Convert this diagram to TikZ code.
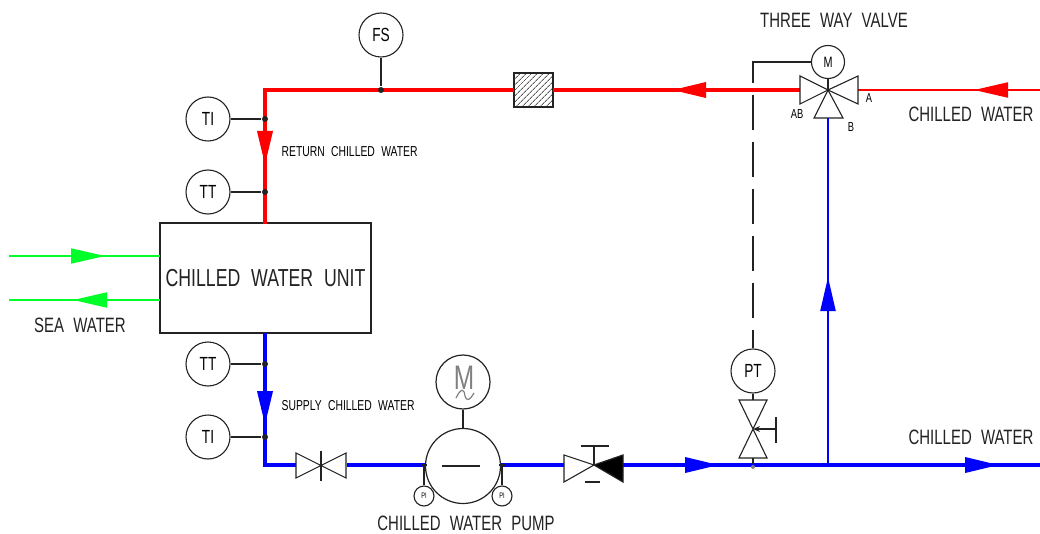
\documentclass[tikz,border=0pt]{standalone}
\usepackage{fontspec}
\newfontfamily\cadfont[FakeStretch=0.72,WordSpace=2.2]{Liberation Sans}
\usetikzlibrary{positioning, arrows.meta, calc, patterns.meta}

\definecolor{pipered}{RGB}{255,0,0}
\definecolor{pipeblue}{RGB}{0,0,255}
\definecolor{pipegreen}{RGB}{0,255,40}
\definecolor{inkgray}{RGB}{35,35,35}

\begin{document}
\begin{tikzpicture}[x=1pt, y=-1pt, >=Stealth, line width=1.2pt]

  % --- STYLES ---
  \tikzstyle{instr}=[circle, draw=inkgray, fill=white, line width=1.1pt, minimum size=44pt, inner sep=0pt, font=\cadfont\fontsize{19}{19}\selectfont]
  \tikzstyle{gauge}=[circle, draw=inkgray, fill=white, line width=1.1pt, minimum size=20pt, inner sep=0pt, font=\cadfont\fontsize{8}{8}\selectfont]
  \tikzstyle{junction}=[circle, fill=inkgray, inner sep=0pt, minimum size=6pt]
  \tikzstyle{label}=[inner sep=0pt, text=inkgray, font=\cadfont\fontsize{20.8}{20.8}\selectfont]
  \tikzstyle{smalllabel}=[inner sep=0pt, text=black, font=\cadfont\fontsize{14.4}{14.4}\selectfont]
  \tikzstyle{portlabel}=[inner sep=0pt, text=black, font=\cadfont\fontsize{13}{13}\selectfont]
  \tikzstyle{valve}=[draw=inkgray, line width=1.1pt, line join=miter]
  \tikzstyle{redthick}=[draw=pipered, line width=3.6pt]
  \tikzstyle{redthin}=[draw=pipered, line width=2pt]
  \tikzstyle{bluethick}=[draw=pipeblue, line width=3.6pt]
  \tikzstyle{bluethin}=[draw=pipeblue, line width=2.2pt]
  \tikzstyle{greenline}=[draw=pipegreen, line width=1.8pt]
  \tikzstyle{flow}=[-{Triangle[length=34pt, width=15pt]}]

  \useasboundingbox (0,0) rectangle (1040,534);

  % --- CHILLED WATER UNIT ---
  \node[draw=inkgray, line width=1.4pt, minimum width=211pt, minimum height=110pt, inner sep=0pt, font=\cadfont\fontsize{24.6}{24.6}\selectfont, text=inkgray] (unit) at (265.5,278) {CHILLED WATER UNIT};

  % --- SEA WATER ---
  \coordinate (seaInA) at (9,256);
  \coordinate (seaInB) at (160,256);
  \coordinate (seaOutA) at (160,300);
  \coordinate (seaOutB) at (9,300);
  \draw[greenline] (seaInA) -- (seaInB);
  \draw[greenline] (seaOutA) -- (seaOutB);
  \draw[greenline, flow] (72,256) -- (105,256);
  \draw[greenline, flow] (106,300) -- (73,300);
  \node[label] (sea) at (80,325) {SEA WATER};

  % --- RETURN LINE ---
  \coordinate (retBot) at (265,224);
  \coordinate (retCorner) at (265,90);
  \node[draw=inkgray, line width=1.2pt, minimum width=39pt, minimum height=34pt, inner sep=0pt, pattern={Lines[angle=45, distance=4pt, line width=.9pt]}, pattern color=black!65] (filter) at (533.5,90) {};
  \coordinate (vCenter) at (828,90);
  \coordinate (vAB) at (800,90);
  \coordinate (vA) at (858,90);
  \coordinate (chwIn) at (1040,90);
  \draw[redthick] (retBot) -- (retCorner) -- (filter);
  \draw[redthick] (filter) -- (vAB);
  \draw[redthin] (vA) -- (chwIn);
  \draw[redthick, flow] (265,132) -- (265,165);
  \draw[redthick, flow] (708,90) -- (672,90);
  \draw[redthin, flow] (1005,90) -- (974,90);
  \node[smalllabel, anchor=west] (retText) at (281,152) {RETURN CHILLED WATER};

  % --- RETURN LINE INSTRUMENTS ---
  \node[instr] (FS) at (381,35) {FS};
  \node[instr] (TI1) at (208,119) {TI};
  \node[instr] (TT1) at (208,192) {TT};
  \node[junction] (jFS) at (381,90) {};
  \node[junction] (jTI1) at (265,119) {};
  \node[junction] (jTT1) at (265,192) {};
  \draw[draw=inkgray] (FS) -- (jFS);
  \draw[draw=inkgray] (TI1) -- (jTI1);
  \draw[draw=inkgray] (TT1) -- (jTT1);

  % --- THREE WAY VALVE ---
  \coordinate (vB) at (828,118);
  \draw[valve] (vAB) ++(0,-14) -- (vCenter) -- (858,76) -- (858,104) -- (vCenter) -- (800,104) -- cycle;
  \draw[valve] (vCenter) -- (843,118) -- (814,118) -- cycle;
  \node[instr, minimum size=33pt, font=\cadfont\fontsize{15}{15}\selectfont] (Mv) at (828,62) {M};
  \draw[draw=inkgray] (Mv) -- (vCenter);
  \node[junction, minimum size=3pt] (jV) at (vCenter) {};
  \node[portlabel] (lA) at (869,98) {A};
  \node[portlabel] (lAB) at (797,114) {AB};
  \node[portlabel] (lB) at (851,127) {B};
  \node[label] (tw) at (834,20) {THREE WAY VALVE};
  \node[label] (chwTop) at (971,114) {CHILLED WATER};

  % --- SUPPLY LINE ---
  \coordinate (supTop) at (265,333);
  \coordinate (supCorner) at (265,465);
  \coordinate (gvL) at (296,465);
  \coordinate (gvC) at (321,465);
  \coordinate (gvR) at (347,465);
  \coordinate (pumpIn) at (426,465);
  \coordinate (pumpOut) at (500,465);
  \coordinate (cvL) at (564,465);
  \coordinate (cvC) at (594,465);
  \coordinate (cvR) at (623,465);
  \coordinate (chwOut) at (1040,465);
  \node[inner sep=0pt, minimum size=0pt] (tee) at (828,465) {};
  \draw[bluethick] (supTop) -- (supCorner) -- (gvL);
  \draw[bluethick] (gvR) -- (pumpIn);
  \draw[bluethick] (pumpOut) -- (cvL);
  \draw[bluethick] (cvR) -- (chwOut);
  \draw[bluethin] (tee.center) -- (vB);
  \draw[bluethick, flow] (265,391) -- (265,425);
  \draw[bluethick, flow] (687,465) -- (719,465);
  \draw[bluethick, flow] (967,465) -- (999,465);
  \draw[bluethin, flow] (828,311) -- (828,277);
  \node[smalllabel, anchor=west] (supText) at (281,406) {SUPPLY CHILLED WATER};
  \node[label] (chwBot) at (971,437) {CHILLED WATER};

  % --- SUPPLY LINE INSTRUMENTS ---
  \node[instr] (TT2) at (208,364) {TT};
  \node[instr] (TI2) at (208,437) {TI};
  \node[junction] (jTT2) at (265,364) {};
  \node[junction] (jTI2) at (265,437) {};
  \draw[draw=inkgray] (TT2) -- (jTT2);
  \draw[draw=inkgray] (TI2) -- (jTI2);

  % --- GATE VALVE ---
  \draw[valve] (296,453) -- (346,478) -- (346,453) -- (296,478) -- cycle;
  \draw[draw=inkgray] (gvC) ++(0,-14) -- ++(0,30);

  % --- PUMP ---
  \node[circle, draw=inkgray, line width=1.2pt, minimum size=75pt, inner sep=0pt] (pump) at (463,466) {};
  \node[circle, draw=inkgray, line width=1.2pt, minimum size=54pt, inner sep=0pt] (motor) at (463,382) {};
  \node[inner sep=0pt, font=\cadfont\fontsize{34}{34}\selectfont, text=gray] (motorM) at (464,378) {M};
  \draw[draw=inkgray] (motor) -- (pump);
  \draw[draw=inkgray] (442,466) -- (480,466);
  \draw[draw=gray] (456,398) .. controls (461,388) and (464,388) .. (465,396) .. controls (467,402) and (470,400) .. (474,393);
  \node[gauge] (P1) at (424,496) {PI};
  \node[gauge] (P2) at (502,496) {PI};
  \coordinate (P1top) at (424,465);
  \coordinate (P2top) at (502,465);
  \draw[draw=inkgray] (P1) -- (P1top);
  \draw[draw=inkgray] (P2) -- (P2top);
  \draw[draw=inkgray] (421,465) -- (427,465);
  \draw[draw=inkgray] (499,465) -- (505,465);
  \node[label] (pumpText) at (466,523.5) {CHILLED WATER PUMP};

  % --- CHECK VALVE ---
  \draw[valve] (564,455) -- (cvC) -- (564,482) -- cycle;
  \draw[inkgray, fill=black] (623,455) -- (cvC) -- (623,482) -- cycle;
  \draw[draw=inkgray] (cvC) -- (594,446);
  \draw[draw=inkgray] (581,446) -- (609,446);
  \draw[draw=inkgray] (585,482) -- (600,482);

  % --- PT TAPPING ---
  \node[instr] (PT) at (753,371) {PT};
  \coordinate (nvC) at (753,429);
  \node[junction, minimum size=4pt, fill=gray] (jPT) at (753,467) {};
  \draw[valve] (739,400) -- (767,400) -- (739,458) -- (767,458) -- cycle;
  \draw[draw=inkgray] (PT) -- (753,400);
  \draw[draw=inkgray] (753,458) -- (jPT);
  \draw[draw=inkgray, -{Stealth[length=7pt, width=6pt]}] (776,429) -- (nvC);
  \draw[draw=inkgray] (776,417) -- (776,443);

  % --- SIGNAL LINE ---
  \coordinate (sigCorner) at (753,62);
  \coordinate (sigEnd) at (753,83);
  \coordinate (sigStart) at (753,95);
  \draw[draw=inkgray] (Mv) -- (sigCorner) -- (sigEnd);
  \draw[draw=inkgray, dash pattern=on 35pt off 12pt] (sigStart) -- (PT);

\end{tikzpicture}
\end{document}
